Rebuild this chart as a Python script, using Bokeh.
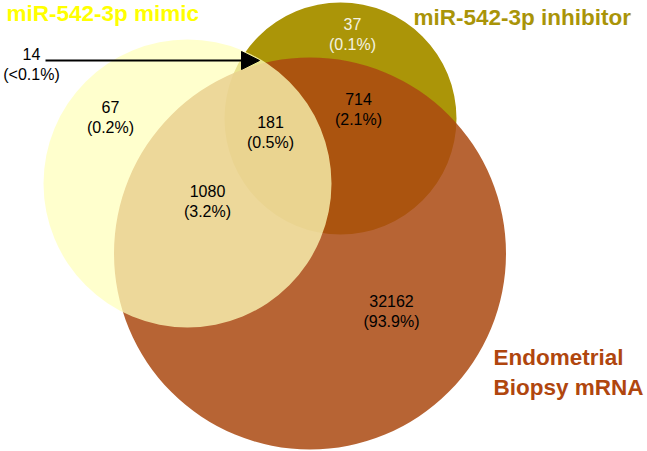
from bokeh.plotting import figure
from bokeh.models import Range1d, Arrow, NormalHead, ColumnDataSource
from bokeh.core.properties import value
from bokeh.embed import file_html
from bokeh.resources import INLINE

# Set names and region data
set_names = ["miR-542-3p mimic", "miR-542-3p inhibitor", "Endometrial\nBiopsy mRNA"]
region_counts = [14, 67, 181, 1080, 37, 714, 32162]
region_pcts = ["(<0.1%)", "(0.2%)", "(0.5%)", "(3.2%)", "(0.1%)", "(2.1%)", "(93.9%)"]

# layout (reference pixel coordinates)
circ_x = [340, 309.5, 187]
circ_y = [118, 253, 183]
circ_r = [116, 196, 144]
circ_color = ["#AB9508", "#AA4910", "#FFFFBC"]
circ_alpha = [1.0, 0.85, 0.75]

lab_x = [31, 110, 270, 207, 352, 358, 391]
lab_y = [64, 117, 132, 201, 34, 109, 311]
lab_color = ["black", "black", "black", "black", "#F4F2E0", "black", "black"]

p = figure(width=647, height=451, output_backend="svg", toolbar_location=None,
           x_range=Range1d(0, 647), y_range=Range1d(451, 0),
           min_border=0, outline_line_color=None)
p.axis.visible = False
p.grid.visible = False
p.background_fill_color = "white"

for i in range(3):
    p.circle(x=[circ_x[i]], y=[circ_y[i]], radius=circ_r[i], radius_dimension="x",
             fill_color=circ_color[i], fill_alpha=circ_alpha[i], line_color=None)

labels = [f"{c}\n{pc}" for c, pc in zip(region_counts, region_pcts)]
src = ColumnDataSource(dict(x=lab_x, y=lab_y, t=labels, c=lab_color))
p.text(x="x", y="y", text="t", text_color="c", source=src,
       text_font=value("Liberation Sans"), text_font_size="16px",
       text_align="center", text_baseline="middle", text_line_height=1.15)

# arrow for the small region
p.add_layout(Arrow(end=NormalHead(size=18, fill_color="black", line_color="black"),
                   x_start=45, y_start=60, x_end=259, y_end=60,
                   line_width=2, line_color="black"))

# set titles
p.text(x=[6], y=[13], text=[set_names[0]], text_color="#FFFF00",
       text_font=value("Liberation Sans"), text_font_style="bold",
       text_font_size="22.5px", text_align="left", text_baseline="middle")
p.text(x=[413], y=[17], text=[set_names[1]], text_color="#A99408",
       text_font=value("Liberation Sans"), text_font_style="bold",
       text_font_size="22.5px", text_align="left", text_baseline="middle")
p.text(x=[493], y=[372], text=[set_names[2]], text_color="#B0460E",
       text_font=value("Liberation Sans"), text_font_style="bold",
       text_font_size="22.5px", text_align="left", text_baseline="middle",
       text_line_height=1.2)

open("out.html", "w").write(file_html(p, INLINE))
